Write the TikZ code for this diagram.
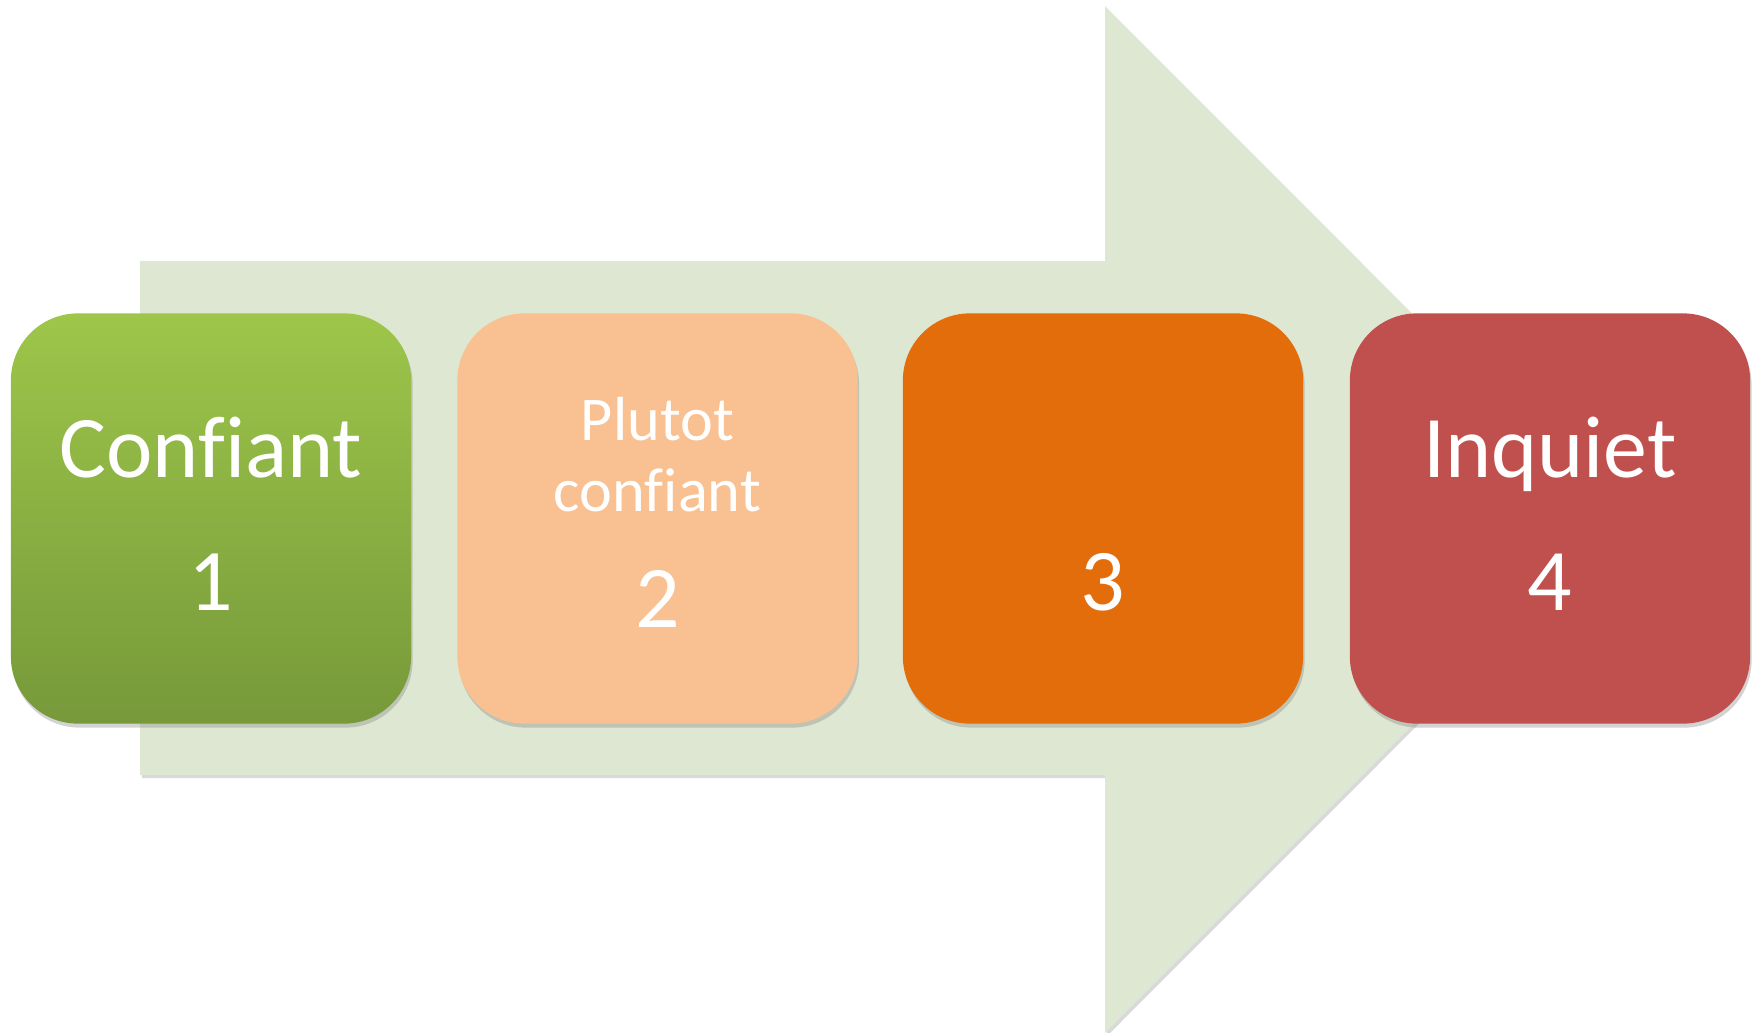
\documentclass[tikz,border=0pt]{standalone}
\usepackage{fontspec}
\setmainfont{Carlito}[Ligatures=NoCommon]
\usetikzlibrary{shadows}
\definecolor{arrowgreen}{HTML}{DEE7D2}
\definecolor{greentop}{HTML}{9DC64A}
\definecolor{greenbot}{HTML}{77993A}
\definecolor{peach}{HTML}{F9C091}
\definecolor{darkorange}{HTML}{E36C0B}
\definecolor{brickred}{HTML}{C0504E}
\begin{document}
\begin{tikzpicture}[x=0.01cm, y=-0.01cm]
\useasboundingbox (0,0) rectangle (1759,1033);
\fill[arrowgreen, drop shadow={shadow xshift=0.02cm, shadow yshift=-0.03cm, opacity=0.3}]
  (140,261) -- (1105,261) -- (1105,6) -- (1618,519.5) -- (1105,1033) -- (1105,775) -- (140,775) -- cycle;
\node[rounded corners=0.67cm, minimum width=4cm, minimum height=4.1cm, top color=greentop, bottom color=greenbot, drop shadow={shadow xshift=0.015cm, shadow yshift=-0.04cm, opacity=0.35}] (box1) at (211,518.5){};
\node[rounded corners=0.67cm, minimum width=4cm, minimum height=4.1cm, fill=peach, drop shadow={shadow xshift=0.015cm, shadow yshift=-0.04cm, opacity=0.35}] (box2) at (657.5,518.5){};
\node[rounded corners=0.67cm, minimum width=4cm, minimum height=4.1cm, fill=darkorange, drop shadow={shadow xshift=0.015cm, shadow yshift=-0.04cm, opacity=0.35}] (box3) at (1103,518.5){};
\node[rounded corners=0.67cm, minimum width=4cm, minimum height=4.1cm, fill=brickred, drop shadow={shadow xshift=0.015cm, shadow yshift=-0.04cm, opacity=0.35}] (box4) at (1550,518.5){};
\node[anchor=base, white, font=\fontsize{25}{30}\selectfont] (lab1) at (211,477){Confiant};
\node[anchor=base, white, font=\fontsize{25}{30}\selectfont] (num1) at (211,610){1};
\node[anchor=base, white, font=\fontsize{17.7}{21}\selectfont] (lab2a) at (657.5,440){Plutot};
\node[anchor=base, white, font=\fontsize{17.7}{21}\selectfont] (lab2b) at (657.5,511){confiant};
\node[anchor=base, white, font=\fontsize{25}{30}\selectfont] (num2) at (657.5,627){2};
\node[anchor=base, white, font=\fontsize{25}{30}\selectfont] (num3) at (1103,610){3};
\node[anchor=base, white, font=\fontsize{25}{30}\selectfont] (lab4) at (1550,477){Inquiet};
\node[anchor=base, white, font=\fontsize{25}{30}\selectfont] (num4) at (1550,610){4};
\end{tikzpicture}
\end{document}
